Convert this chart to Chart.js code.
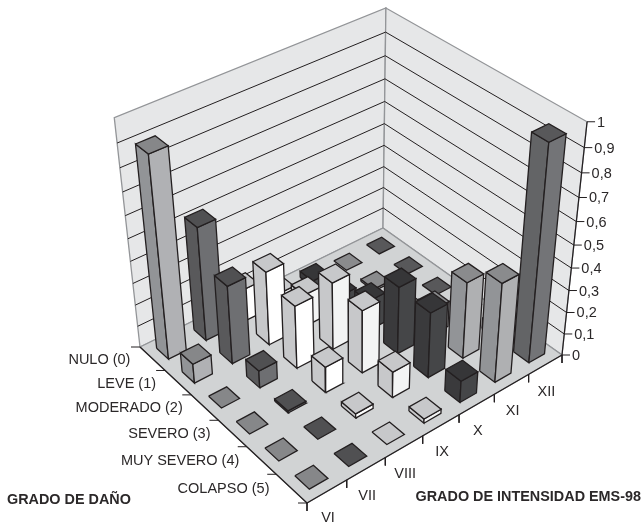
<!DOCTYPE html>
<html>
<head>
<meta charset="utf-8">
<title>Grado de daño</title>
<style>
  html, body { margin: 0; padding: 0; background: #fff; }
  canvas { display: block; }
</style>
<script src="https://cdn.jsdelivr.net/npm/chart.js@4/dist/chart.umd.min.js"></script>
</head>
<body>
<canvas id="chart" width="642" height="526"></canvas>
<script>
// Categories
const danos = ['NULO (0)', 'LEVE (1)', 'MODERADO (2)', 'SEVERO (3)', 'MUY SEVERO (4)', 'COLAPSO (5)'];
const intensidades = ['VI', 'VII', 'VIII', 'IX', 'X', 'XI', 'XII'];
const ticksZ = ['0', '0,1', '0,2', '0,3', '0,4', '0,5', '0,6', '0,7', '0,8', '0,9', '1'];

// Values, one list per intensity (NULO -> COLAPSO)
const serieVI = [0.90, 0.09, 0, 0, 0, 0];
const serieVII = [0.52, 0.36, 0.08, 0.01, 0, 0];
const serieVIII = [0.15, 0.34, 0.29, 0.12, 0.02, 0];
const serieIX = [0.05, 0.15, 0.31, 0.29, 0.12, 0.02];
const serieX = [0.03, 0.06, 0.14, 0.31, 0.30, 0.10];
const serieXI = [0, 0.01, 0.02, 0.12, 0.35, 0.45];
const serieXII = [0, 0, 0, 0.02, 0.05, 0.95];
const series = [serieVI, serieVII, serieVIII, serieIX, serieX, serieXI, serieXII];

// Face colours per intensity: top, left side, right side
const colores = [
  ['#868789', '#929497', '#b0b1b4'],
  ['#505052', '#59595b', '#6e6f72'],
  ['#c7c8ca', '#c7c8ca', '#ffffff'],
  ['#c7c8ca', '#c7c8ca', '#f3f4f4'],
  ['#363638', '#3a3a3c', '#454648'],
  ['#8a8b8d', '#929497', '#afb0b2'],
  ['#58585a', '#636466', '#737477']
];

const inkDark = '#231f20';
const wallGrey = '#939598';
const barRatio = 0.47;

// Camera: floor corners on the page and the vertical vanishing point
const floorL = [140, 347], floorB = [383, 228], floorF = [307, 503], floorR = [562, 355];
const vanish = [356, 2271];
const lambda = -0.1065;

function buildFloor() {
  const dx1 = floorB[0] - floorR[0], dx2 = floorF[0] - floorR[0];
  const dy1 = floorB[1] - floorR[1], dy2 = floorF[1] - floorR[1];
  const sx = floorL[0] - floorB[0] + floorR[0] - floorF[0];
  const sy = floorL[1] - floorB[1] + floorR[1] - floorF[1];
  const det = dx1 * dy2 - dx2 * dy1;
  const g = (sx * dy2 - dx2 * sy) / det;
  const h = (dx1 * sy - sx * dy1) / det;
  return {
    a: floorB[0] - floorL[0] + g * floorB[0], b: floorF[0] - floorL[0] + h * floorF[0], c: floorL[0],
    d: floorB[1] - floorL[1] + g * floorB[1], e: floorF[1] - floorL[1] + h * floorF[1], f: floorL[1],
    g, h
  };
}
const H = buildFloor();

// u: along intensity, v: along damage, z: value 0..1
function project(u, v, z) {
  const w = H.g * u + H.h * v + 1 + lambda * z;
  return {
    x: (H.a * u + H.b * v + H.c + lambda * z * vanish[0]) / w,
    y: (H.d * u + H.e * v + H.f + lambda * z * vanish[1]) / w
  };
}

const shapes = [];

function polygon(points, fillColor, lineColor, lineWidth) {
  shapes.push({
    data: [...points, points[0]],
    fill: 'shape',
    backgroundColor: fillColor,
    borderColor: lineColor,
    borderWidth: lineWidth,
    borderJoinStyle: 'miter',
    pointRadius: 0,
    clip: false
  });
}

function polyline(points, lineColor, lineWidth) {
  shapes.push({
    data: points,
    fill: false,
    borderColor: lineColor,
    borderWidth: lineWidth,
    pointRadius: 0,
    clip: false
  });
}

// Walls and floor
polygon([project(0, 0, 0), project(1, 0, 0), project(1, 0, 1), project(0, 0, 1)], '#e6e7e8', wallGrey, 1.3);
polygon([project(1, 0, 0), project(1, 1, 0), project(1, 1, 1), project(1, 0, 1)], '#e6e7e8', wallGrey, 1.3);
polygon([project(0, 0, 0), project(1, 0, 0), project(1, 1, 0), project(0, 1, 0)], '#d1d3d4', wallGrey, 1.3);

// Grid lines on both walls
ticksZ.forEach((t, k) => {
  if (k === 0 || k === ticksZ.length - 1) return;
  const z = k / (ticksZ.length - 1);
  polyline([project(0, 0, z), project(1, 0, z), project(1, 1, z)], inkDark, 1);
});

// Front edges of the floor and the value axis
polyline([project(0, 0, 0), project(0, 1, 0), project(1, 1, 0)], inkDark, 1.2);
polyline([project(1, 1, 0), project(1, 1, 1)], inkDark, 1.2);

// Tick marks
for (let j = 0; j <= danos.length; j++) {
  const p = project(0, j / danos.length, 0);
  polyline([p, { x: p.x - 9, y: p.y }], inkDark, 1);
}
for (let i = 0; i <= intensidades.length; i++) {
  const p = project(i / intensidades.length, 1, 0);
  polyline([p, { x: p.x, y: p.y + 8 }], inkDark, 1);
}
ticksZ.forEach((t, k) => {
  const p = project(1, 1, k / (ticksZ.length - 1));
  polyline([p, { x: p.x + 8, y: p.y }], inkDark, 1);
});

// Bars, back to front
function addBar(i, j) {
  const value = series[i][j];
  const du = barRatio / intensidades.length / 2, dv = barRatio / danos.length / 2;
  const uc = (i + 0.5) / intensidades.length, vc = (j + 0.5) / danos.length;
  const u0 = uc - du, u1 = uc + du, v0 = vc - dv, v1 = vc + dv;
  const [top, left, right] = colores[i];
  if (value > 0) {
    polygon([project(u0, v0, 0), project(u0, v1, 0), project(u0, v1, value), project(u0, v0, value)], left, inkDark, 1.3);
    polygon([project(u0, v1, 0), project(u1, v1, 0), project(u1, v1, value), project(u0, v1, value)], right, inkDark, 1.3);
  }
  polygon([project(u0, v0, value), project(u1, v0, value), project(u1, v1, value), project(u0, v1, value)], top, inkDark, 1.3);
}
for (let j = 0; j < danos.length; j++) {
  for (let i = intensidades.length - 1; i >= 0; i--) {
    addBar(i, j);
  }
}

// Text is drawn on top from the same projection and scales
const textPlugin = {
  id: 'axisText',
  afterDraw(chart) {
    const { ctx, scales } = chart;
    const px = p => scales.x.getPixelForValue(p.x);
    const py = p => scales.y.getPixelForValue(p.y);
    ctx.save();
    ctx.fillStyle = '#2b2829';
    ctx.textBaseline = 'middle';
    ctx.font = '14.5px "Liberation Sans"';
    ctx.textAlign = 'right';
    danos.forEach((label, j) => {
      const p = project(0, (j + 0.5) / danos.length, 0);
      ctx.fillText(label, px(p) - 22, py(p) + 1);
    });
    ctx.textAlign = 'center';
    intensidades.forEach((label, i) => {
      const p = project((i + 0.5) / intensidades.length, 1, 0);
      ctx.fillText(label, px(p) + 1, py(p) + 27);
    });
    ctx.textAlign = 'left';
    ticksZ.forEach((label, k) => {
      const p = project(1, 1, k / (ticksZ.length - 1));
      ctx.fillText(label, px(p) + 10, py(p) + 1);
    });
    ctx.font = 'bold 14.4px "Liberation Sans"';
    ctx.fillText('GRADO DE DAÑO', 7, 500);
    ctx.textAlign = 'right';
    ctx.fillText('GRADO DE INTENSIDAD EMS-98', 641, 497);
    ctx.restore();
  }
};

new Chart(document.getElementById('chart').getContext('2d'), {
  type: 'line',
  // first dataset is painted last, so flip the list
  data: { datasets: shapes.slice().reverse() },
  options: {
    responsive: false,
    animation: false,
    events: [],
    layout: { padding: 0 },
    plugins: { legend: { display: false }, tooltip: { enabled: false } },
    scales: {
      x: { type: 'linear', display: false, min: 0, max: 642 },
      y: { type: 'linear', display: false, min: 0, max: 526, reverse: true }
    }
  },
  plugins: [textPlugin]
});
</script>
</body>
</html>
